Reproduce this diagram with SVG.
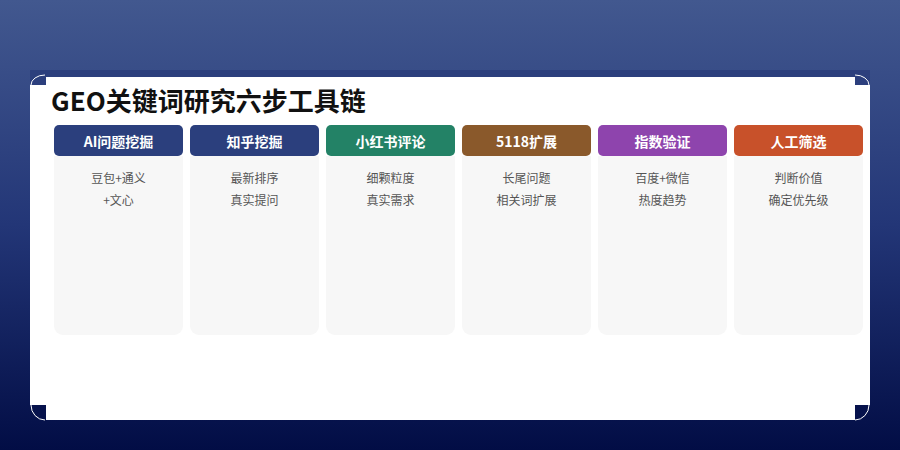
<svg xmlns="http://www.w3.org/2000/svg" width="900" height="450" viewBox="0 0 900 450">
  <defs>
    <linearGradient id="bg" x1="0" y1="0" x2="0" y2="1">
      <stop offset="0" stop-color="#42588f"/>
      <stop offset="0.5" stop-color="#233677"/>
      <stop offset="1" stop-color="#020d45"/>
    </linearGradient>
    <style>
      .title{font-family:"Noto Sans CJK SC","Liberation Sans",sans-serif;font-weight:700;font-size:26px;fill:#111111}
      .head{font-family:"Noto Sans CJK SC","Liberation Sans",sans-serif;font-weight:700;font-size:14px;fill:#ffffff;text-anchor:middle}
      .body{font-family:"Noto Sans CJK SC","Liberation Sans",sans-serif;font-size:12px;fill:#555555;text-anchor:middle}
      .card-body{fill:#f7f7f7}
      .corner{fill:none;stroke:#ffffff;stroke-width:1}
    </style>
  </defs>
  <rect x="0" y="0" width="900" height="450" fill="url(#bg)"/>
  <g id="panel">
    <rect x="30" y="70" width="840" height="350" fill="#ffffff"/>
    <rect x="30" y="70" width="840" height="7" fill="#2c3f7d"/>
    <rect x="30" y="75" width="16" height="10" fill="#2c3f7d"/>
    <path class="corner" d="M31,85 A14,10 0 0 1 45,75"/>
    <rect x="855" y="75" width="15" height="10" fill="#2c3f7d"/>
    <path class="corner" d="M855,75 A14,10 0 0 1 869,85"/>
    <rect x="30" y="405" width="16" height="15" fill="#06124c"/>
    <path class="corner" d="M31,405 A14,15 0 0 0 45,420"/>
    <rect x="855" y="405" width="15" height="15" fill="#06124c"/>
    <path class="corner" d="M855,420 A14,15 0 0 0 869,405"/>
    <text class="title" x="51" y="111">GEO关键词研究六步工具链</text>
  </g>
  <g id="connectors"/>
  <g id="card1">
    <path class="card-body" d="M54,156 H183 V326 A9,9 0 0 1 174,335 H63 A9,9 0 0 1 54,326 Z"/>
    <rect x="54" y="125" width="129" height="31" rx="5" fill="#2b3f7d"/>
    <text class="head" x="118.5" y="147">AI问题挖掘</text>
    <text class="body" x="118.5" y="183">豆包+通义</text>
    <text class="body" x="118.5" y="205">+文心</text>
  </g>
  <g id="card2">
    <path class="card-body" d="M190,156 H319 V326 A9,9 0 0 1 310,335 H199 A9,9 0 0 1 190,326 Z"/>
    <rect x="190" y="125" width="129" height="31" rx="5" fill="#2b3f7d"/>
    <text class="head" x="254.5" y="147">知乎挖掘</text>
    <text class="body" x="254.5" y="183">最新排序</text>
    <text class="body" x="254.5" y="205">真实提问</text>
  </g>
  <g id="card3">
    <path class="card-body" d="M326,156 H455 V326 A9,9 0 0 1 446,335 H335 A9,9 0 0 1 326,326 Z"/>
    <rect x="326" y="125" width="129" height="31" rx="5" fill="#238266"/>
    <text class="head" x="390.5" y="147">小红书评论</text>
    <text class="body" x="390.5" y="183">细颗粒度</text>
    <text class="body" x="390.5" y="205">真实需求</text>
  </g>
  <g id="card4">
    <path class="card-body" d="M462,156 H591 V326 A9,9 0 0 1 582,335 H471 A9,9 0 0 1 462,326 Z"/>
    <rect x="462" y="125" width="129" height="31" rx="5" fill="#8a592b"/>
    <text class="head" x="526.5" y="147">5118扩展</text>
    <text class="body" x="526.5" y="183">长尾问题</text>
    <text class="body" x="526.5" y="205">相关词扩展</text>
  </g>
  <g id="card5">
    <path class="card-body" d="M598,156 H727 V326 A9,9 0 0 1 718,335 H607 A9,9 0 0 1 598,326 Z"/>
    <rect x="598" y="125" width="129" height="31" rx="5" fill="#8e44ad"/>
    <text class="head" x="662.5" y="147">指数验证</text>
    <text class="body" x="662.5" y="183">百度+微信</text>
    <text class="body" x="662.5" y="205">热度趋势</text>
  </g>
  <g id="card6">
    <path class="card-body" d="M734,156 H863 V326 A9,9 0 0 1 854,335 H743 A9,9 0 0 1 734,326 Z"/>
    <rect x="734" y="125" width="129" height="31" rx="5" fill="#c8512a"/>
    <text class="head" x="798.5" y="147">人工筛选</text>
    <text class="body" x="798.5" y="183">判断价值</text>
    <text class="body" x="798.5" y="205">确定优先级</text>
  </g>
</svg>
